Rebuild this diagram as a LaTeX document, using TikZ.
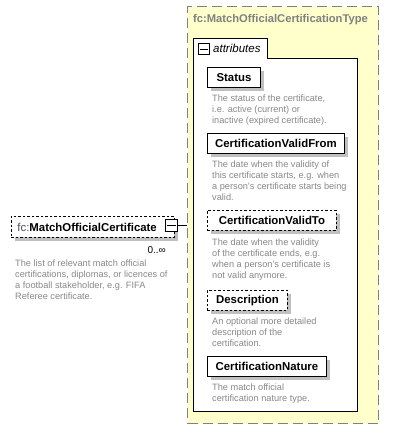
\documentclass[tikz,border=0pt]{standalone}
\usepackage{fontspec}
\setmainfont{Liberation Sans}
\usetikzlibrary{shadows}
\definecolor{typeyellow}{RGB}{255,255,204}
\definecolor{dashgray}{RGB}{128,128,128}
\definecolor{titlegray}{RGB}{128,128,128}
\definecolor{descgray}{RGB}{136,136,136}
\definecolor{shadowgray}{RGB}{192,192,192}
\definecolor{prefixgray}{RGB}{80,80,100}
\tikzset{
  typebox/.style={draw=dashgray, fill=typeyellow, line width=1.2pt, dash pattern=on 10pt off 5pt, inner sep=0},
  titletext/.style={text=titlegray, font=\fontsize{11.2}{13}\selectfont\bfseries, inner sep=0},
  elembox/.style={draw=black, fill=white, line width=0.9pt, inner sep=0, minimum height=20,
     font=\fontsize{11.4}{13}\selectfont\bfseries,
     general shadow={fill=shadowgray, shadow xshift=4pt, shadow yshift=-4pt}},
  optbox/.style={elembox, dash pattern=on 2.5pt off 2pt},
  desctext/.style={text=descgray, font=\fontsize{9.2}{11}\selectfont, align=left, inner sep=0, anchor=north west},
  togglebox/.style={draw=black, fill=white, line width=0.9pt, minimum size=11, inner sep=0},
  conn/.style={draw=black, line width=0.8pt}
}
\begin{document}
\begin{tikzpicture}[x=1pt,y=-1pt]
\useasboundingbox (0,0) rectangle (400,441);
% type box
\node[typebox, anchor=north west, minimum width=191, minimum height=417] (type) at (187,6) {};
\node[titletext, anchor=base west] (ttl) at (193,23) {fc:MatchOfficialCertificationType};
% attributes group
\draw[black, line width=0.9pt, fill=white] (193,38) -- (267,38) -- (267,58) -- (357,58) -- (357,411) -- (193,411) -- cycle;
\node[togglebox, anchor=north west, minimum size=11] (atog) at (198,43.5) {};
\draw[line width=0.9pt] ([xshift=2pt]atog.west) -- ([xshift=-2pt]atog.east);
\node[anchor=base west, inner sep=0, font=\fontsize{11.5}{13}\selectfont\itshape] (attrlbl) at (213,53) {attributes};
% Status
\node[elembox, anchor=north west, minimum width=53] (status) at (207,67) {Status};
\node[desctext] (statusd) at (212,95) {The status of the certificate,\\i.e. active (current) or\\inactive (expired certificate).};
% CertificationValidFrom
\node[elembox, anchor=north west, minimum width=137] (cvf) at (207,133) {CertificationValidFrom};
\node[desctext] (cvfd) at (212,161) {The date when the validity of\\this certificate starts, e.g. when\\a person's certificate starts being\\valid.};
% CertificationValidTo
\node[optbox, anchor=north west, minimum width=129] (cvt) at (207,210) {CertificationValidTo};
\node[desctext] (cvtd) at (212,239) {The date when the validity\\of the certificate ends, e.g.\\when a person's certificate is\\not valid anymore.};
% Description
\node[optbox, anchor=north west, minimum width=80] (descr) at (207,290) {Description};
\node[desctext] (descrd) at (212,318) {An optional more detailed\\description of the\\certification.};
% CertificationNature
\node[elembox, anchor=north west, minimum width=119] (cnat) at (207,356) {CertificationNature};
\node[desctext] (cnatd) at (212,384) {The match official\\certification nature type.};
% left element
\node[optbox, anchor=north west, minimum height=21, text width=151, inner xsep=6, align=left] (moc) at (11,216) {\textcolor{prefixgray}{\mdseries fc:}MatchOfficialCertificate};
\node[togglebox, anchor=north west, minimum size=12] (mtog) at (165,219) {};
\draw[line width=0.9pt] ([xshift=2pt]mtog.west) -- ([xshift=-2pt]mtog.east);
\draw[conn] (mtog.east) -- (type.west |- mtog.east);
\node[anchor=base east, inner sep=0, font=\fontsize{10}{12}\selectfont] (occ) at (166,253) {0..∞};
\node[desctext] (mocd) at (15,260) {The list of relevant match official\\certifications, diplomas, or licences of\\a football stakeholder, e.g. FIFA\\Referee certificate.};
\end{tikzpicture}
\end{document}
